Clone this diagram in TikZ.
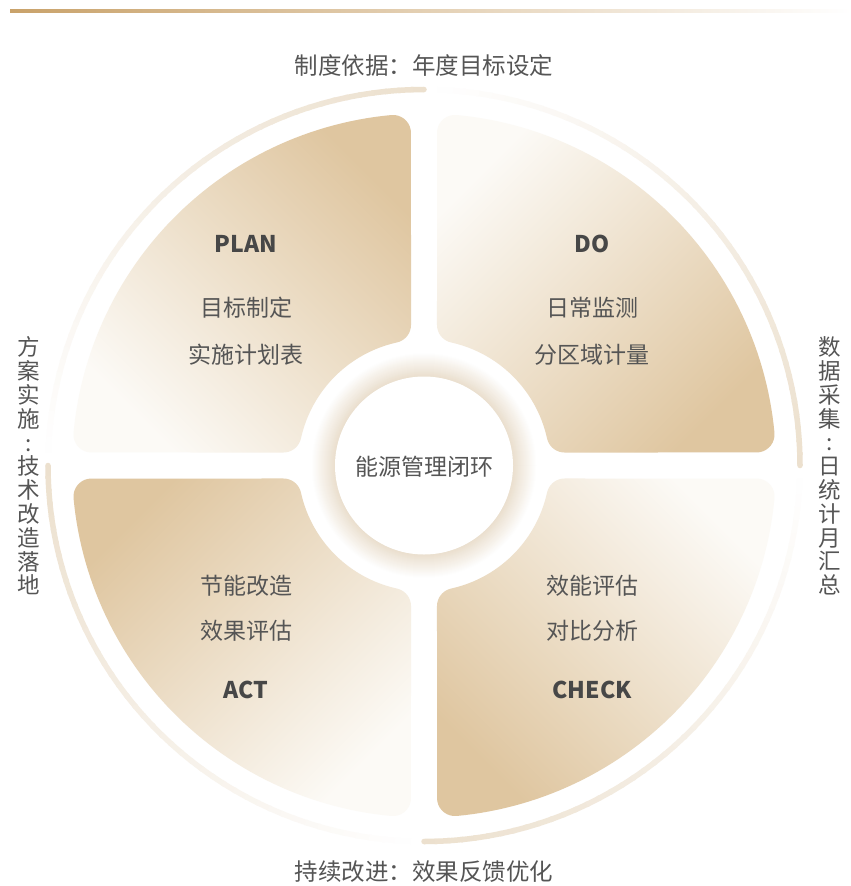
\documentclass[tikz,border=0pt]{standalone}
\usepackage{fontspec}
\setmainfont{Noto Sans CJK SC}
\usetikzlibrary{shadings}
\definecolor{qdark}{HTML}{DFC6A0}
\definecolor{qlight}{HTML}{FCFAF6}
\definecolor{ringc}{HTML}{ECE0CE}
\definecolor{shd}{HTML}{E9DDCB}
\definecolor{txtc}{HTML}{555555}
\definecolor{ttlc}{HTML}{474747}
\definecolor{gold}{HTML}{C9A26A}
\tikzset{
  body/.style={inner sep=0pt, text=txtc, font=\fontsize{23}{24}\selectfont},
  ttl/.style={inner sep=0pt, text=ttlc, font=\fontsize{23}{24}\selectfont\bfseries},
  lbl/.style={inner sep=0pt, text=txtc, font=\fontsize{23.5}{24}\selectfont},
  vlbl/.style={inner sep=0pt, text=txtc, align=center, font=\fontsize{22.5}{23.8}\selectfont},
}
\begin{document}
\begin{tikzpicture}[x=1pt,y=-1pt]
\useasboundingbox (0,0) rectangle (851,886);
\fill[white] (0,0) rectangle (851,886);
% top line
\shade[left color=gold, right color=white] (10,9.6) rectangle (851,12.6);
\coordinate (C) at (424,465.5);
% outer thin fading arcs
\foreach \s in {270,180,90,0}{
  \foreach \i in {0,...,43}{
    \pgfmathtruncatemacro\c{100-2.25*\i}
    \pgfmathsetmacro\ta{\s-2*\i+0.4*min(\i,1)}
    \pgfmathsetmacro\tb{\s-2*\i-2}
    \draw[draw=ringc!\c!white, line width=5.5pt] plot[domain=\ta:\tb, samples=5] ({424+376*cos(\x)},{465.5+376*sin(\x)});
  }
  \fill[ringc] ({424+376*cos(\s)},{465.5+376*sin(\s)}) circle (2.75);
}
% quadrants
\foreach \o/\sa in {0/-45, 90/-135, 180/135, 270/45}{
  \pgfmathsetmacro\aA{264.67+\o}
  \pgfmathsetmacro\aB{257.57+\o}
  \pgfmathsetmacro\aC{192.43+\o}
  \pgfmathsetmacro\aD{185.33+\o}
  \pgfmathsetmacro\pAx{424+334*cos(\aA)}\pgfmathsetmacro\pAy{465.5+334*sin(\aA)}
  \pgfmathsetmacro\pBx{424+144*cos(\aB)}\pgfmathsetmacro\pBy{465.5+144*sin(\aB)}
  \pgfmathsetmacro\pCx{424+144*cos(\aC)}\pgfmathsetmacro\pCy{465.5+144*sin(\aC)}
  \pgfmathsetmacro\pDx{424+334*cos(\aD)}\pgfmathsetmacro\pDy{465.5+334*sin(\aD)}
  \pgfmathsetmacro\eA{360+\o}
  \pgfmathsetmacro\eB{437.57+\o}
  \pgfmathsetmacro\bA{\aB-180}
  \pgfmathsetmacro\bB{\aC-180}
  \pgfmathsetmacro\fA{90+\o}
  \shade[top color=qdark, bottom color=qlight, shading angle=\sa]
    plot[domain=\aD:\aA, samples=60] ({424+352*cos(\x)},{465.5+352*sin(\x)})
    -- plot[domain=\aA:\eA, samples=10] ({\pAx+18*cos(\x)},{\pAy+18*sin(\x)})
    -- plot[domain=\eA:\eB, samples=10] ({\pBx+18*cos(\x)},{\pBy+18*sin(\x)})
    -- plot[domain=\aB:\aC, samples=25] ({424+126*cos(\x)},{465.5+126*sin(\x)})
    -- plot[domain=\bB:\fA, samples=10] ({\pCx+18*cos(\x)},{\pCy+18*sin(\x)})
    -- plot[domain=\fA:\aD, samples=10] ({\pDx+18*cos(\x)},{\pDy+18*sin(\x)})
    -- cycle;
}
% center shadow and disk
\foreach \i in {0,...,24}{
  \pgfmathtruncatemacro\c{4*\i}
  \fill[shd!\c!white] (C) circle ({113-\i});
}
\fill[white] (C) circle (89);
% texts
\node[body] (ctr) at (424,466.5) {能源管理闭环};
\node[ttl] (plan) at (246,243.5) {PLAN};
\node[body] (p1) at (246,308) {目标制定};
\node[body] (p2) at (246,354.5) {实施计划表};
\node[ttl] (do) at (592,243.5) {DO};
\node[body] (d1) at (592,308) {日常监测};
\node[body] (d2) at (592,354.5) {分区域计量};
\node[body] (a1) at (246,585.5) {节能改造};
\node[body] (a2) at (246,630.5) {效果评估};
\node[ttl] (act) at (246,690) {ACT};
\node[body] (c1) at (592,585.5) {效能评估};
\node[body] (c2) at (592,630.5) {对比分析};
\node[ttl] (chk) at (592,690) {CHECK};
\node[lbl] (top) at (424,66) {制度依据：年度目标设定};
\node[lbl] (bot) at (424,872) {持续改进：效果反馈优化};
\node[vlbl] (lft) at (29,466) {方\\案\\实\\施\\:\\技\\术\\改\\造\\落\\地};
\node[vlbl] (rgt) at (830,466) {数\\据\\采\\集\\:\\日\\统\\计\\月\\汇\\总};
\end{tikzpicture}
\end{document}
